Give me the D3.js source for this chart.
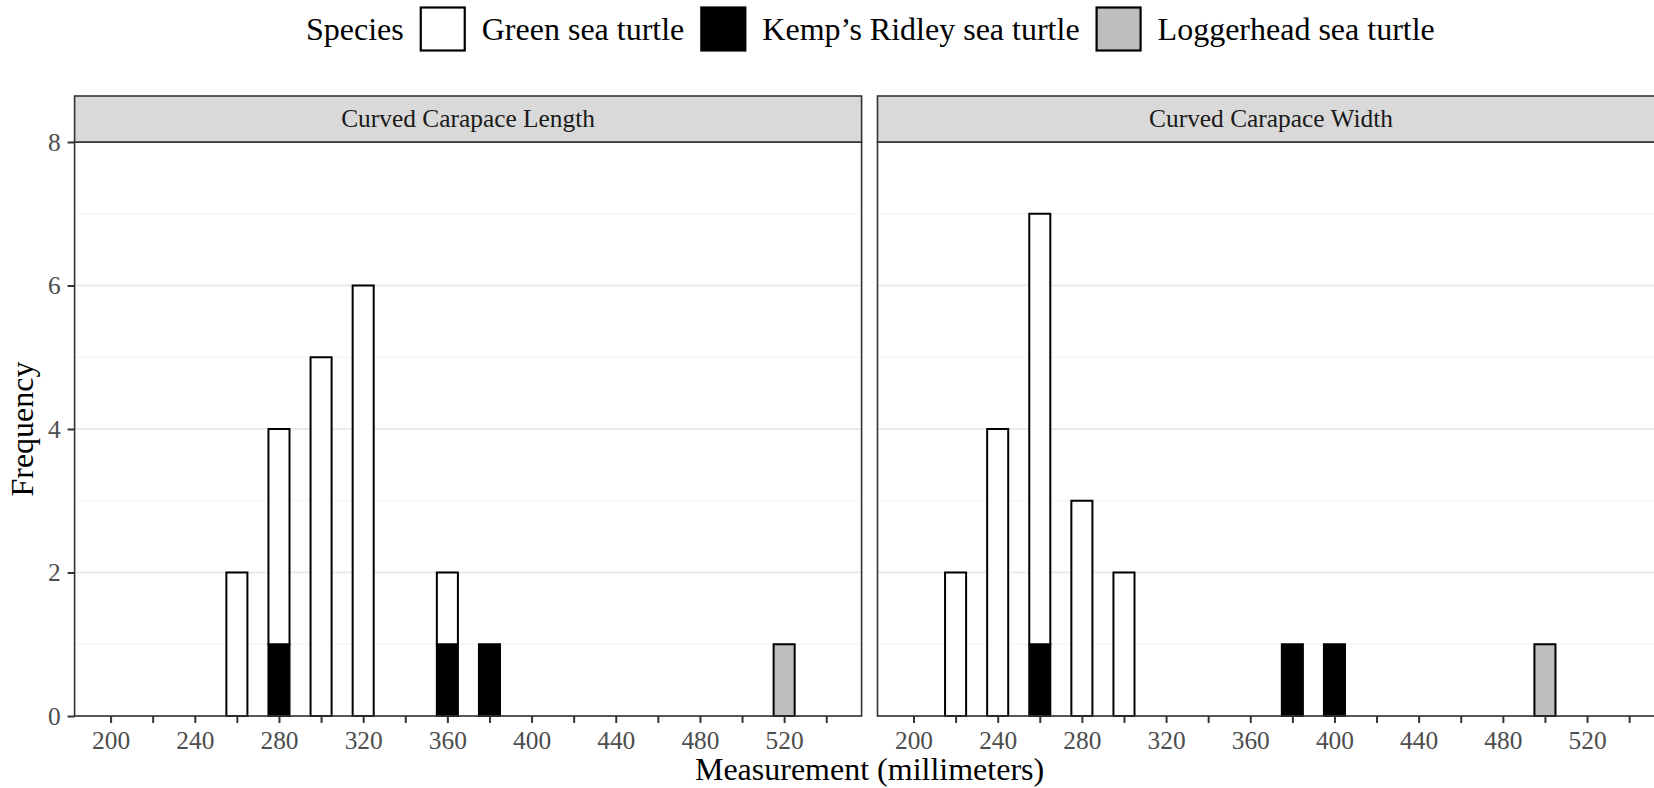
<!DOCTYPE html>
<html><head><meta charset="utf-8">
<script src="https://cdn.jsdelivr.net/npm/d3@7"></script>
<style>
html,body{margin:0;padding:0;background:#fff;}
svg{display:block;}
svg text{font-family:"Liberation Serif","Times New Roman",serif !important;}
</style></head>
<body>
<svg id="chart" width="1654" height="788"></svg>
<script>
// ---- data ----
const species = ["Green sea turtle", "Kemp\u2019s Ridley sea turtle", "Loggerhead sea turtle"];
const speciesFill = ["#ffffff", "#000000", "#bebebe"];
const panels = ["Curved Carapace Length", "Curved Carapace Width"];

const lengthBins   = [260, 280, 300, 320, 360, 380, 520];
const lengthGreen  = [2, 3, 5, 6, 1, 0, 0];
const lengthKemp   = [0, 1, 0, 0, 1, 1, 0];
const lengthLogger = [0, 0, 0, 0, 0, 0, 1];

const widthBins   = [220, 240, 260, 280, 300, 380, 400, 500];
const widthGreen  = [2, 4, 6, 3, 2, 0, 0, 0];
const widthKemp   = [0, 0, 1, 0, 0, 1, 1, 0];
const widthLogger = [0, 0, 0, 0, 0, 0, 0, 1];

const xTickValues = [200,220,240,260,280,300,320,340,360,380,400,420,440,460,480,500,520,540];
const xLabelValues = [200,240,280,320,360,400,440,480,520];
const yMajor = [0, 2, 4, 6, 8];
const yMinor = [1, 3, 5, 7];
const binWidth = 10;

// ---- layout ----
const svg = d3.select("#chart");
const panelW = 787, panelTop = 142, panelBottom = 716, stripTop = 96;
const panelLefts = [74.6, 877.5];
const dark = "#333333";
const serif = "'Liberation Serif','Times New Roman',serif";

const y = d3.scaleLinear().domain([0, 8]).range([panelBottom, panelTop]);

const panelData = [
  {bins: lengthBins, green: lengthGreen, kemp: lengthKemp, logger: lengthLogger},
  {bins: widthBins, green: widthGreen, kemp: widthKemp, logger: widthLogger}
];

panelData.forEach((pd, pi) => {
  const x0 = panelLefts[pi];
  const x = d3.scaleLinear().domain([182.9, 556.8]).range([x0, x0 + panelW]);
  const g = svg.append("g");

  // gridlines
  g.selectAll(".minor").data(yMinor).enter().append("line")
    .attr("x1", x0).attr("x2", x0 + panelW)
    .attr("y1", d => y(d)).attr("y2", d => y(d))
    .attr("stroke", "#f3f3f3").attr("stroke-width", 1.2);
  g.selectAll(".major").data(yMajor).enter().append("line")
    .attr("x1", x0).attr("x2", x0 + panelW)
    .attr("y1", d => y(d)).attr("y2", d => y(d))
    .attr("stroke", "#ebebeb").attr("stroke-width", 2);

  // stacked bars
  const rows = pd.bins.map((b, i) => ({bin: b, logger: pd.logger[i], kemp: pd.kemp[i], green: pd.green[i]}));
  const keys = ["logger", "kemp", "green"];
  const fills = {green: speciesFill[0], kemp: speciesFill[1], logger: speciesFill[2]};
  const stacked = d3.stack().keys(keys)(rows);
  stacked.forEach(layer => {
    g.selectAll(null).data(layer.filter(d => d[1] - d[0] > 0)).enter().append("rect")
      .attr("x", d => x(d.data.bin - binWidth / 2))
      .attr("width", d => x(d.data.bin + binWidth / 2) - x(d.data.bin - binWidth / 2))
      .attr("y", d => y(d[1]))
      .attr("height", d => y(d[0]) - y(d[1]))
      .attr("fill", fills[layer.key])
      .attr("stroke", "#000").attr("stroke-width", 2);
  });

  // panel border
  g.append("rect").attr("x", x0).attr("y", panelTop).attr("width", panelW).attr("height", panelBottom - panelTop)
    .attr("fill", "none").attr("stroke", dark).attr("stroke-width", 1.6);

  // strip
  g.append("rect").attr("x", x0).attr("y", stripTop).attr("width", panelW).attr("height", panelTop - stripTop)
    .attr("fill", "#d9d9d9").attr("stroke", dark).attr("stroke-width", 1.6);
  g.append("text").attr("x", x0 + panelW / 2).attr("y", (stripTop + panelTop) / 2 + 8)
    .attr("text-anchor", "middle").attr("font-size", 25.4).attr("fill", "#1a1a1a").text(panels[pi]);

  // x axis
  const xAxis = d3.axisBottom(x).tickValues(xTickValues).tickSize(7).tickPadding(8)
    .tickFormat(d => xLabelValues.includes(d) ? d : "");
  const ax = g.append("g").attr("transform", `translate(0,${panelBottom})`).call(xAxis)
    .attr("font-family", serif).attr("font-size", 25.4);
  ax.select(".domain").remove();
  ax.selectAll(".tick line").attr("stroke", dark).attr("stroke-width", 2);
  ax.selectAll(".tick text").attr("fill", "#4d4d4d");

  if (pi === 0) {
    const yAxis = d3.axisLeft(y).tickValues(yMajor).tickSize(7).tickPadding(7);
    const ay = g.append("g").attr("transform", `translate(${x0},0)`).call(yAxis)
      .attr("font-family", serif).attr("font-size", 25.4);
    ay.select(".domain").remove();
    ay.selectAll(".tick line").attr("stroke", dark).attr("stroke-width", 2);
    ay.selectAll(".tick text").attr("fill", "#4d4d4d");
  }
});

// axis titles
svg.append("text").attr("x", (panelLefts[0] + panelLefts[1] + panelW) / 2).attr("y", 780)
  .attr("text-anchor", "middle").attr("font-size", 32).attr("fill", "#000").text("Measurement (millimeters)");
svg.append("text").attr("transform", "translate(33,429) rotate(-90)")
  .attr("text-anchor", "middle").attr("font-size", 32).attr("fill", "#000").text("Frequency");

// legend
const leg = svg.append("g");
let lx = 306;
const title = leg.append("text").attr("x", lx).attr("y", 40).attr("font-size", 32).text("Species");
lx += title.node().getComputedTextLength() + 17;
species.forEach((s, i) => {
  leg.append("rect").attr("x", lx).attr("y", 7.5).attr("width", 44).attr("height", 43)
    .attr("fill", speciesFill[i]).attr("stroke", "#000").attr("stroke-width", 2.2);
  lx += 44 + 17;
  const t = leg.append("text").attr("x", lx).attr("y", 40).attr("font-size", 32).text(s);
  lx += t.node().getComputedTextLength() + 17;
});
</script>
</body></html>
